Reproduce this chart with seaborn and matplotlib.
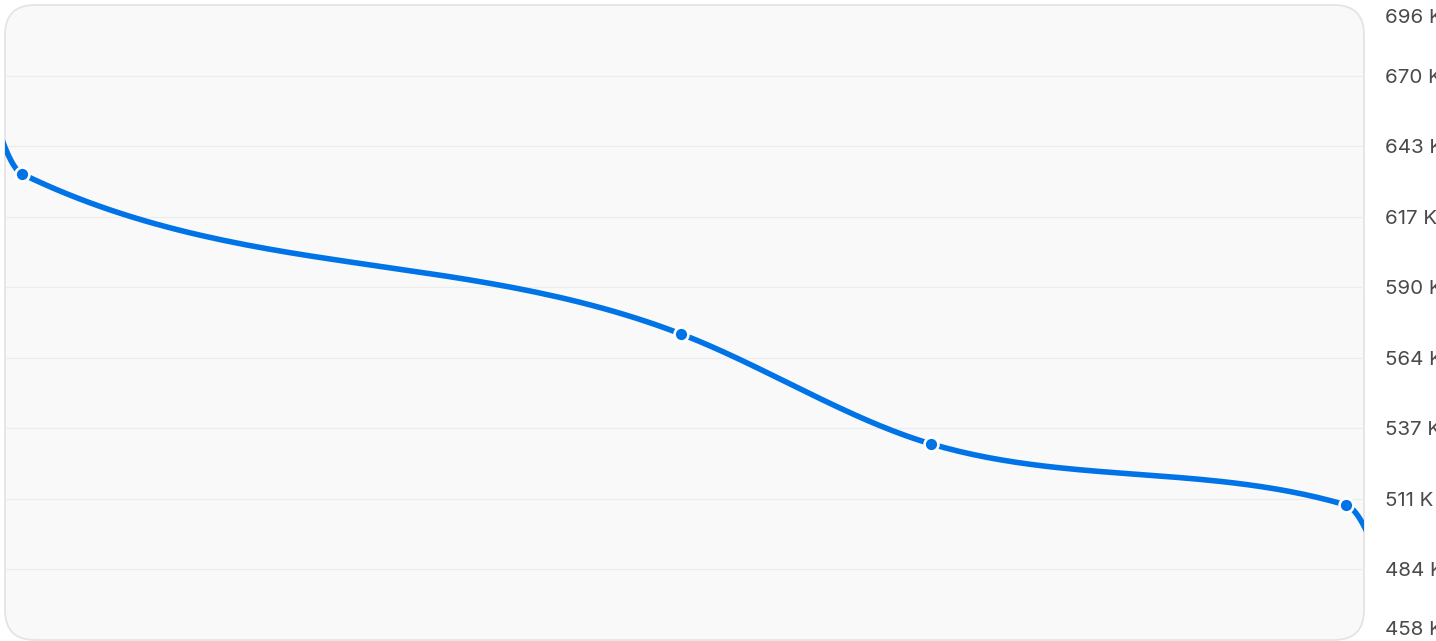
import numpy as np
import pandas as pd
import seaborn as sns
import matplotlib.pyplot as plt
from matplotlib.patches import FancyBboxPatch
from matplotlib.transforms import ScaledTranslation

# data (values in thousands); first and last points sit outside the visible window
period = [-30, 22, 681, 931, 1346, 1390]
value_k = [690.0, 632.7, 572.7, 531.5, 508.6, 476.5]
y_ticks = np.linspace(458, 696, 10)
y_labels = [f"{round(v)} K" for v in y_ticks]
x_window = (5, 1364)

BLUE = "#0073E6"
TEXT = "#4a4a4a"


def monotone_x(xs, ys, n=60):
    # d3-style monotone cubic interpolation
    xs = np.asarray(xs, float)
    ys = np.asarray(ys, float)
    h = np.diff(xs)
    s = np.diff(ys) / h
    m = np.zeros(len(xs))
    for i in range(1, len(xs) - 1):
        p = (s[i - 1] * h[i] + s[i] * h[i - 1]) / (h[i - 1] + h[i])
        m[i] = (np.sign(s[i - 1]) + np.sign(s[i])) * min(abs(s[i - 1]), abs(s[i]), 0.5 * abs(p))
    m[0] = (3 * s[0] - m[1]) / 2
    m[-1] = (3 * s[-1] - m[-2]) / 2
    out_x, out_y = [], []
    for i in range(len(h)):
        t = np.linspace(0, 1, n)
        h00 = 2 * t**3 - 3 * t**2 + 1
        h10 = t**3 - 2 * t**2 + t
        h01 = -2 * t**3 + 3 * t**2
        h11 = t**3 - t**2
        out_x.extend(xs[i] + t * h[i])
        out_y.extend(h00 * ys[i] + h10 * h[i] * m[i] + h01 * ys[i + 1] + h11 * h[i] * m[i + 1])
    return np.array(out_x), np.array(out_y)


sns.set_style("white")
plt.rcParams['font.family'] = ['Inter', 'DejaVu Sans']

fig = plt.figure(figsize=(14.36, 6.41), dpi=100)
W, H = 1436, 641
ax = fig.add_axes([5 / W, 1 / H, (1364 - 5) / W, (640 - 5) / H])
ax.patch.set_visible(False)

box = FancyBboxPatch((0, 0), 1, 1, boxstyle="round,pad=0,rounding_size=0.022",
                     transform=ax.transAxes, facecolor="#f9f9f9", edgecolor="#e4e4e4",
                     linewidth=1.3, clip_on=False, zorder=0, mutation_aspect=1359 / 635)
ax.add_patch(box)

for yv in y_ticks[1:-1]:
    ax.axhline(yv, color="#ececec", linewidth=0.9, zorder=1)

cx, cy = monotone_x(period, value_k)
curve = pd.DataFrame({"period": cx, "value": cy})
sns.lineplot(data=curve, x="period", y="value", ax=ax, color=BLUE, linewidth=4.0,
             sort=False, zorder=3, solid_capstyle="butt")

pts = pd.DataFrame({"period": period, "value": value_k})
sns.scatterplot(data=pts, x="period", y="value", ax=ax, color=BLUE, s=100,
                edgecolor="white", linewidth=1.9, zorder=4)

ax.set_xlim(*x_window)
ax.set_ylim(y_ticks[0], y_ticks[-1])
ax.set_xticks([])
ax.set_yticks(y_ticks)
ax.set_yticklabels(y_labels)
ax.yaxis.tick_right()
ax.tick_params(axis="y", length=0, pad=15, labelsize=14.8, labelcolor=TEXT)
labels = ax.get_yticklabels()
labels[0].set_va("bottom")
labels[0].set_transform(labels[0].get_transform() + ScaledTranslation(0, 1 / 100, fig.dpi_scale_trans))
labels[-1].set_va("top")
labels[-1].set_transform(labels[-1].get_transform() + ScaledTranslation(0, -4 / 100, fig.dpi_scale_trans))
ax.set_xlabel("")
ax.set_ylabel("")
for sp in ax.spines.values():
    sp.set_visible(False)

fig.savefig("out.png", dpi=100, facecolor="white")
